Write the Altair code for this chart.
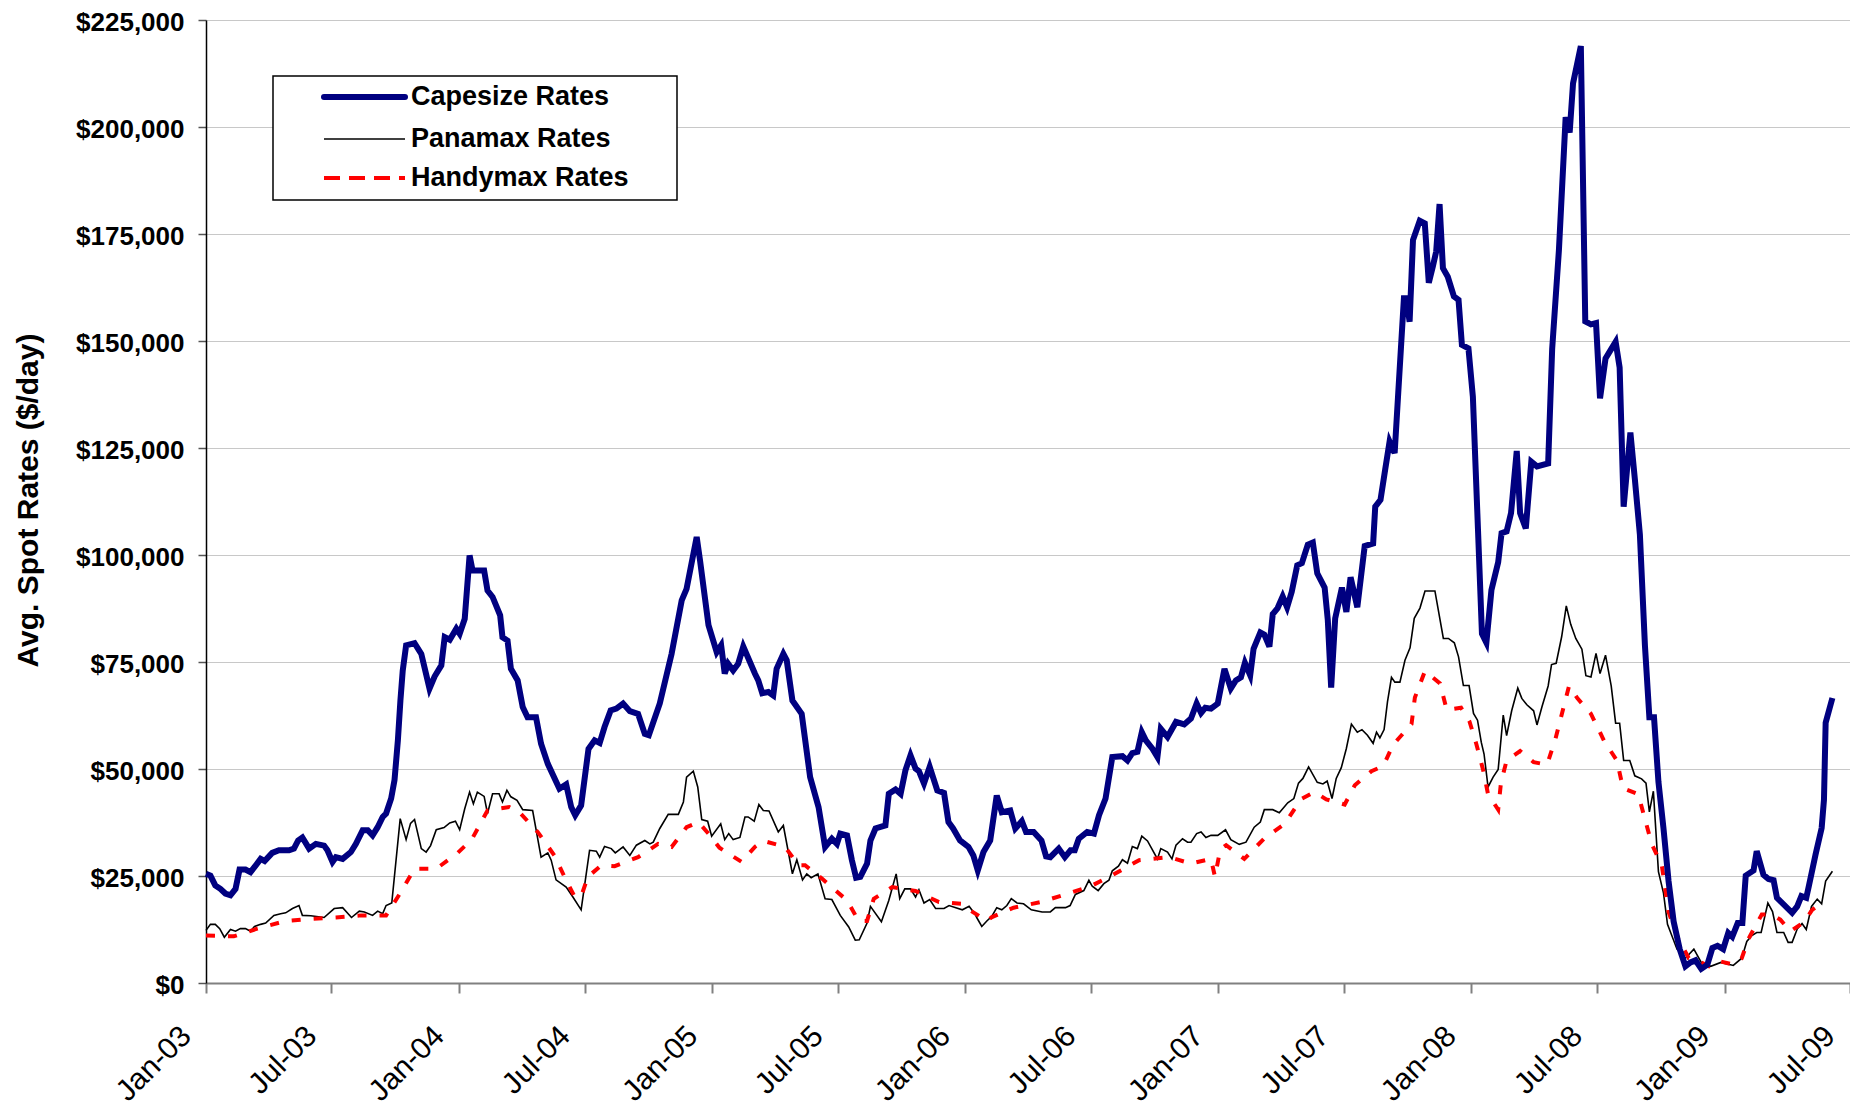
import altair as alt
import numpy as np
import pandas as pd

FONT = "Liberation Sans"
SERIES = ["Capesize Rates", "Panamax Rates", "Handymax Rates"]
COLORS = ["#000080", "#000000", "#FF0000"]

# (months since Jan-2003, rate in $ thousands per day)
capesize = [
    (0.0, 25.5), (0.21, 25.1), (0.44, 22.8), (0.68, 22.0), (0.92, 20.9), (1.16, 20.5), (1.4, 22.0),
    (1.59, 26.5), (1.87, 26.5), (2.11, 25.9), (2.35, 27.4), (2.59, 29.0), (2.78, 28.5), (3.14, 30.4),
    (3.46, 31.0), (3.94, 31.0), (4.17, 31.4), (4.37, 33.3), (4.57, 34.0), (4.89, 31.4), (5.21, 32.5),
    (5.6, 32.1), (5.76, 31.0), (6.0, 28.3), (6.16, 29.4), (6.48, 29.0), (6.87, 30.6), (7.11, 32.5),
    (7.43, 35.7), (7.67, 35.7), (7.9, 34.5), (8.14, 36.4), (8.38, 38.8), (8.54, 39.6), (8.78, 43.1),
    (8.94, 47.4), (9.1, 56.7), (9.22, 66.0), (9.33, 73.0), (9.49, 78.9), (9.89, 79.4), (10.21, 76.9),
    (10.6, 68.8), (10.84, 71.6), (11.16, 74.2), (11.32, 80.8), (11.56, 80.2), (11.87, 82.8), (12.03, 81.6),
    (12.27, 85.1), (12.5, 99.9), (12.64, 96.4), (13.19, 96.4), (13.35, 91.7), (13.59, 90.2), (13.95, 85.9),
    (14.06, 80.8), (14.3, 80.0), (14.46, 73.4), (14.78, 70.7), (15.02, 64.5), (15.25, 62.1), (15.65, 62.1),
    (15.89, 55.9), (16.21, 51.2), (16.76, 45.4), (17.08, 46.4), (17.32, 41.1), (17.51, 39.2), (17.79, 41.5),
    (18.14, 54.7), (18.43, 56.7), (18.67, 56.1), (18.9, 59.8), (19.19, 63.7), (19.46, 64.1), (19.78, 65.3),
    (20.1, 63.5), (20.49, 62.9), (20.81, 58.2), (21.0, 57.9), (21.52, 65.3), (22.08, 76.9), (22.56, 89.4),
    (22.79, 92.1), (23.27, 104.2), (23.43, 98.7), (23.83, 83.6), (24.22, 77.3), (24.43, 78.9), (24.6, 72.3),
    (24.76, 74.6), (25.0, 73.0), (25.24, 74.6), (25.48, 78.6), (26.03, 72.3), (26.19, 70.7), (26.38, 67.7),
    (26.67, 68.0), (26.9, 67.2), (27.06, 73.4), (27.38, 76.9), (27.54, 75.4), (27.81, 66.0), (28.25, 62.9),
    (28.65, 48.1), (29.05, 41.1), (29.36, 31.8), (29.68, 33.7), (29.92, 32.5), (30.08, 34.9), (30.4, 34.5),
    (30.63, 28.7), (30.83, 24.6), (31.03, 24.8), (31.35, 27.9), (31.51, 33.3), (31.75, 36.1), (32.22, 36.8),
    (32.38, 44.2), (32.7, 45.2), (32.94, 44.2), (33.17, 49.7), (33.41, 53.2), (33.65, 50.1), (33.81, 49.5),
    (34.05, 46.6), (34.32, 50.5), (34.68, 45.0), (35.0, 44.4), (35.21, 37.6), (35.43, 36.1), (35.76, 33.3),
    (36.16, 31.8), (36.39, 29.8), (36.6, 26.3), (36.87, 30.6), (37.19, 33.3), (37.5, 43.8), (37.74, 39.9),
    (38.14, 40.3), (38.38, 36.1), (38.69, 37.8), (38.89, 35.3), (39.25, 35.3), (39.62, 33.3), (39.84, 29.6),
    (40.04, 29.4), (40.44, 31.4), (40.73, 29.4), (41.0, 31.0), (41.2, 31.0), (41.39, 33.7), (41.79, 35.3),
    (42.11, 34.9), (42.35, 39.2), (42.66, 43.1), (42.98, 52.8), (43.46, 53.0), (43.7, 52.0), (43.93, 53.7),
    (44.17, 54.0), (44.38, 58.6), (44.57, 56.7), (44.89, 54.7), (45.12, 52.8), (45.28, 59.4), (45.6, 57.5),
    (46.0, 61.0), (46.39, 60.4), (46.71, 61.8), (46.98, 65.3), (47.19, 63.1), (47.39, 64.3), (47.66, 64.1),
    (47.98, 65.3), (48.3, 73.4), (48.6, 68.8), (48.84, 70.7), (49.08, 71.4), (49.27, 74.8), (49.52, 71.9),
    (49.68, 78.1), (50.0, 81.9), (50.19, 81.4), (50.43, 78.6), (50.59, 86.2), (50.82, 87.6), (51.06, 90.3),
    (51.27, 87.8), (51.49, 91.4), (51.75, 97.6), (51.97, 98.1), (52.25, 102.4), (52.49, 102.9), (52.7, 95.7),
    (53.05, 92.4), (53.2, 84.8), (53.36, 69.0), (53.55, 85.2), (53.87, 92.4), (54.08, 86.7), (54.28, 94.8),
    (54.6, 87.8), (54.95, 102.1), (55.35, 102.7), (55.45, 111.3), (55.7, 112.9), (55.92, 119.9),
    (56.13, 126.5), (56.37, 123.8), (56.53, 137.0), (56.81, 160.0), (56.92, 160.0), (57.08, 154.5),
    (57.24, 173.6), (57.56, 178.1), (57.8, 177.5), (57.99, 163.6), (58.18, 167.4), (58.34, 170.9),
    (58.5, 182.0), (58.66, 167.0), (58.89, 165.0), (59.18, 160.4), (59.4, 159.6), (59.56, 149.1),
    (59.87, 148.3), (60.08, 137.0), (60.32, 106.2), (60.51, 81.6), (60.72, 79.5), (60.96, 91.8),
    (61.28, 98.3), (61.44, 105.1), (61.68, 105.5), (61.89, 109.8), (62.16, 124.3), (62.32, 109.8),
    (62.59, 106.2), (62.85, 121.8), (63.12, 120.7), (63.65, 121.4), (63.84, 148.1), (64.16, 171.2),
    (64.48, 202.3), (64.67, 198.7), (64.83, 210.2), (65.2, 218.9), (65.41, 154.6), (65.68, 153.9),
    (65.92, 154.2), (66.11, 136.6), (66.37, 145.9), (66.64, 148.1), (66.85, 149.8), (67.04, 143.8),
    (67.23, 111.3), (67.55, 128.6), (67.76, 117.8), (68.0, 104.8), (68.24, 78.8), (68.45, 62.1),
    (68.67, 62.1), (68.88, 47.0), (69.12, 36.1), (69.36, 23.8), (69.6, 14.4), (69.89, 7.9), (70.16, 3.9),
    (70.4, 4.8), (70.64, 5.3), (70.91, 3.3), (71.2, 4.3), (71.44, 8.2), (71.68, 8.7), (71.95, 7.9),
    (72.19, 11.7), (72.38, 10.8), (72.64, 14.0), (72.86, 14.0), (73.02, 25.1), (73.39, 26.3), (73.54, 30.8),
    (73.86, 25.3), (74.1, 24.3), (74.34, 24.0), (74.5, 19.9), (75.22, 16.4), (75.46, 17.9), (75.66, 20.3),
    (75.89, 19.9), (76.01, 22.6), (76.33, 30.0), (76.62, 36.2), (76.73, 42.8), (76.81, 60.8), (77.13, 66.6),
]

panamax = [
    (0.0, 12.3), (0.21, 13.7), (0.44, 13.7), (0.65, 12.7), (0.87, 10.7), (1.16, 12.5), (1.4, 12.1),
    (1.63, 12.7), (1.87, 12.7), (2.11, 12.1), (2.3, 13.2), (2.59, 13.7), (2.83, 14.0), (3.22, 15.8),
    (3.54, 16.2), (3.78, 16.4), (4.1, 17.4), (4.41, 18.1), (4.57, 15.8), (4.97, 15.7), (5.6, 15.3),
    (6.08, 17.4), (6.48, 17.6), (6.9, 15.3), (7.27, 16.8), (7.51, 16.6), (7.9, 15.8), (8.14, 16.8),
    (8.38, 16.2), (8.54, 18.1), (8.81, 18.7), (9.21, 38.4), (9.49, 33.5), (9.7, 37.3), (9.89, 38.2),
    (10.21, 31.4), (10.44, 30.6), (10.65, 32.1), (10.92, 35.8), (11.29, 36.3), (11.56, 37.4), (11.83, 37.8),
    (12.03, 35.8), (12.27, 40.7), (12.5, 44.6), (12.68, 41.9), (12.87, 44.6), (13.19, 43.6), (13.35, 39.6),
    (13.59, 44.2), (13.9, 44.2), (14.06, 42.3), (14.27, 45.0), (14.46, 43.5), (14.75, 42.7), (15.02, 40.5),
    (15.49, 40.3), (15.89, 29.4), (16.21, 30.4), (16.37, 28.7), (16.6, 24.1), (17.08, 22.4), (17.4, 20.1),
    (17.79, 17.1), (18.19, 31.0), (18.51, 30.8), (18.67, 29.4), (18.9, 31.9), (19.22, 31.4), (19.41, 30.4),
    (19.78, 31.8), (20.1, 29.8), (20.41, 32.2), (20.81, 33.3), (21.05, 32.5), (21.21, 32.9), (21.52, 36.1),
    (21.92, 39.4), (22.4, 39.4), (22.64, 42.3), (22.79, 48.1), (23.11, 49.5), (23.32, 45.8), (23.51, 38.2),
    (23.79, 37.8), (23.98, 34.3), (24.41, 37.2), (24.6, 33.5), (24.79, 34.9), (25.0, 33.5), (25.32, 34.0),
    (25.56, 38.8), (25.71, 38.8), (26.0, 37.8), (26.22, 41.7), (26.43, 40.3), (26.7, 40.2), (27.14, 35.3),
    (27.38, 36.8), (27.81, 25.5), (28.02, 28.8), (28.29, 24.1), (28.49, 25.5), (28.7, 24.6), (29.02, 25.5),
    (29.36, 19.7), (29.68, 19.5), (30.08, 15.8), (30.48, 13.1), (30.79, 10.0), (30.98, 10.1), (31.35, 14.0),
    (31.51, 17.9), (32.03, 14.3), (32.38, 19.3), (32.73, 25.5), (32.9, 19.7), (33.14, 22.0), (33.41, 22.0),
    (33.65, 20.1), (33.81, 21.8), (34.05, 18.7), (34.32, 19.5), (34.6, 17.4), (35.0, 17.4), (35.24, 18.1),
    (35.56, 17.6), (35.87, 17.1), (36.19, 17.9), (36.48, 16.0), (36.55, 15.3), (36.79, 13.2), (37.03, 14.5),
    (37.27, 15.6), (37.5, 17.6), (37.74, 17.1), (37.98, 18.1), (38.19, 19.7), (38.46, 18.7), (38.77, 18.5),
    (39.14, 17.1), (39.65, 16.6), (40.04, 16.6), (40.28, 17.6), (40.76, 17.6), (40.98, 18.1), (41.23, 20.7),
    (41.63, 21.6), (41.87, 24.0), (42.03, 22.6), (42.31, 21.6), (42.58, 23.2), (42.82, 24.0), (42.98, 26.2),
    (43.27, 27.3), (43.46, 28.8), (43.7, 28.0), (43.93, 31.9), (44.17, 31.4), (44.38, 34.3), (44.65, 33.2),
    (45.12, 29.0), (45.28, 31.4), (45.6, 30.6), (45.81, 29.0), (46.0, 32.2), (46.31, 33.7), (46.55, 32.9),
    (46.71, 32.9), (46.98, 34.9), (47.19, 35.3), (47.42, 34.0), (47.66, 34.5), (47.98, 34.5), (48.35, 35.8),
    (48.6, 33.5), (49.0, 32.4), (49.32, 32.9), (49.71, 36.4), (50.0, 37.6), (50.19, 40.5), (50.59, 40.5),
    (50.9, 39.8), (51.3, 42.1), (51.59, 43.1), (51.81, 46.7), (52.02, 47.8), (52.29, 50.5), (52.7, 46.9),
    (52.97, 46.5), (53.17, 47.2), (53.4, 43.1), (53.6, 47.8), (53.84, 50.3), (54.08, 54.8), (54.32, 60.5),
    (54.6, 58.6), (54.82, 59.2), (55.08, 57.9), (55.35, 56.0), (55.51, 58.6), (55.67, 57.3), (55.87, 59.2),
    (56.03, 65.7), (56.22, 71.4), (56.38, 70.3), (56.62, 70.3), (56.86, 75.4), (57.1, 78.3), (57.3, 85.2),
    (57.57, 87.6), (57.81, 91.6), (58.28, 91.6), (58.68, 80.5), (58.92, 80.5), (59.2, 79.5), (59.4, 76.2),
    (59.63, 69.5), (59.9, 69.5), (60.11, 63.0), (60.3, 61.4), (60.48, 56.2), (60.61, 53.5), (60.8, 45.8),
    (61.04, 48.1), (61.28, 49.9), (61.52, 62.6), (61.68, 57.8), (61.92, 63.6), (62.21, 68.9), (62.4, 66.5),
    (62.64, 65.0), (62.96, 63.6), (63.12, 60.3), (63.36, 64.6), (63.65, 69.4), (63.81, 74.4), (64.03, 74.7),
    (64.29, 80.9), (64.51, 88.1), (64.72, 83.8), (64.96, 80.5), (65.25, 78.0), (65.44, 71.8), (65.68, 71.5),
    (65.92, 77.0), (66.11, 72.3), (66.37, 76.6), (66.64, 69.4), (66.85, 60.7), (67.04, 60.7), (67.23, 52.0),
    (67.52, 52.0), (67.76, 48.4), (68.08, 47.7), (68.29, 46.7), (68.45, 40.0), (68.64, 44.8), (68.88, 26.0),
    (69.12, 21.0), (69.31, 13.7), (69.76, 7.9), (70.16, 5.8), (70.56, 7.9), (70.91, 4.8), (71.36, 3.9),
    (71.84, 4.8), (72.43, 4.1), (72.83, 5.8), (73.07, 9.7), (73.31, 11.1), (73.54, 11.8), (73.75, 11.8),
    (74.07, 18.7), (74.29, 16.7), (74.5, 11.8), (74.82, 11.8), (75.03, 9.5), (75.22, 9.5), (75.46, 12.6),
    (75.69, 13.9), (75.89, 12.5), (76.14, 17.9), (76.41, 19.6), (76.62, 18.5), (76.81, 23.8), (77.13, 26.1),
]

handymax = [
    (0.0, 11.1), (1.32, 10.9), (2.43, 12.7), (3.78, 14.5), (4.97, 15.0), (6.16, 15.3), (7.35, 15.8),
    (8.54, 15.8), (9.25, 21.3), (9.89, 26.7), (10.92, 26.7), (11.87, 30.1), (12.6, 33.5), (13.35, 40.3),
    (14.38, 41.1), (14.86, 39.9), (15.73, 35.3), (16.52, 29.8), (17.08, 24.0), (17.48, 20.2), (17.79, 20.2),
    (18.11, 24.8), (18.75, 27.5), (19.38, 27.3), (20.49, 29.4), (21.44, 32.5), (22.08, 31.8), (22.79, 36.4),
    (23.35, 37.6), (23.9, 34.5), (24.35, 31.6), (25.4, 28.3), (26.03, 31.8), (26.43, 33.2), (27.46, 31.8),
    (28.1, 27.5), (28.41, 27.5), (29.21, 24.4), (30.4, 19.3), (30.95, 14.5), (31.35, 14.5), (31.67, 19.7),
    (32.54, 22.4), (33.02, 22.0), (33.65, 21.5), (34.76, 18.9), (35.87, 18.5), (36.23, 17.0), (37.03, 14.5),
    (37.27, 15.4), (38.3, 17.6), (39.57, 18.9), (40.76, 20.7), (41.95, 22.6), (42.98, 25.2), (44.25, 28.7),
    (45.68, 29.4), (46.71, 27.9), (47.66, 29.0), (47.85, 24.8), (48.1, 31.2), (48.38, 32.2), (49.24, 29.0),
    (50.19, 33.8), (51.14, 37.1), (51.94, 43.0), (52.57, 44.6), (53.13, 42.9), (54.0, 41.7), (54.48, 46.2),
    (55.27, 49.5), (55.83, 50.7), (56.3, 55.7), (57.17, 60.5), (57.33, 66.7), (57.81, 72.9), (58.52, 70.0),
    (58.84, 63.8), (59.52, 64.3), (59.92, 61.1), (60.24, 55.9), (60.56, 49.9), (60.8, 44.1), (61.28, 40.5),
    (61.41, 46.7), (61.68, 52.0), (62.32, 54.2), (62.96, 51.6), (63.6, 51.0), (64.0, 57.1), (64.64, 69.4),
    (65.04, 66.5), (65.68, 62.9), (66.32, 56.4), (66.91, 52.0), (67.2, 45.5), (67.92, 44.1), (68.24, 38.3),
    (68.56, 32.5), (69.04, 27.5), (69.36, 16.6), (69.84, 10.1), (70.32, 5.8), (70.72, 5.3), (71.28, 3.9),
    (71.76, 5.1), (72.43, 4.3), (72.83, 5.8), (73.15, 10.3), (73.78, 16.0), (74.26, 16.0), (74.66, 14.8),
    (75.14, 12.1), (75.77, 14.2), (76.17, 17.1), (76.62, 18.7),
]

Y_TICKS = list(range(0, 225001, 25000))
X_TICKS = [(y, m) for y in range(2003, 2010) for m in (1, 7)]

BASE = pd.Timestamp("2003-01-01")
DAYS_PER_MONTH = 30.436875


def frame(points, name):
    months = np.array([p[0] for p in points])
    vals = np.array([p[1] for p in points]) * 1000.0
    dates = BASE + pd.to_timedelta(months * DAYS_PER_MONTH, unit="D")
    return pd.DataFrame({"date": dates.strftime("%Y-%m-%dT%H:%M:%SZ"), "rate": vals, "series": name})


def dt(y, m):
    return alt.DateTime(year=y, month=m, date=1, utc=True)


x_enc = alt.X(
    "date:T",
    scale=alt.Scale(type="utc", domain=[dt(2003, 1), dt(2009, 7)]),
    axis=alt.Axis(
        values=[dt(y, m) for y, m in X_TICKS], format="%b-%y", title=None, grid=False,
        labelAngle=315, labelAlign="right", labelBaseline="middle", labelFlush=False,
        labelOverlap=False, labelBound=False, labelFont=FONT, labelFontSize=30,
        labelFontWeight="normal", labelColor="#000000", labelPadding=38, labelOffset=-20,
        domainColor="#808080", domainWidth=2, tickColor="#808080", tickWidth=2, tickSize=10,
    ),
)
y_enc = alt.Y(
    "rate:Q",
    scale=alt.Scale(domain=[0, 225000], nice=False, zero=True),
    axis=alt.Axis(
        values=Y_TICKS, format="$,.0f", title="Avg. Spot Rates ($/day)",
        grid=True, gridColor="#C8C8C8", gridWidth=1,
        domainColor="#000000", domainWidth=1.5, tickColor="#555555", tickWidth=1.5, tickSize=8,
        labelFont=FONT, labelFontSize=26, labelFontWeight="bold", labelColor="#000000", labelPadding=14,
        labelOffset=2,
        titleFont=FONT, titleFontSize=30, titleFontWeight="bold", titleColor="#000000",
        titleAngle=270, titleAlign="center", titleBaseline="middle", titleX=-178, titleY=480,
    ),
)

frames = {
    "Capesize Rates": frame(capesize, "Capesize Rates"),
    "Panamax Rates": frame(panamax, "Panamax Rates"),
    "Handymax Rates": frame(handymax, "Handymax Rates"),
}
style = {
    "Capesize Rates": dict(color=COLORS[0], strokeWidth=6),
    "Panamax Rates": dict(color=COLORS[1], strokeWidth=1.6),
    "Handymax Rates": dict(color=COLORS[2], strokeWidth=4, strokeDash=[9, 13]),
}

line_layers = []
for name in ["Panamax Rates", "Handymax Rates", "Capesize Rates"]:
    line_layers.append(
        alt.Chart(frames[name]).mark_line(interpolate="linear", **style[name]).encode(x=x_enc, y=y_enc)
    )

# framed legend, drawn as marks to match the original's box and spacing
legend_layers = [
    alt.Chart(pd.DataFrame({"series": ["legend"]})).mark_rect(
        fill="white", stroke="black", strokeWidth=1.5
    ).encode(x=alt.value(67), x2=alt.value(471), y=alt.value(56), y2=alt.value(180))
]
legend_rows = [77, 119, 158]
legend_style = {
    "Capesize Rates": dict(color=COLORS[0], strokeWidth=6, strokeCap="round"),
    "Panamax Rates": dict(color=COLORS[1], strokeWidth=1.6),
    "Handymax Rates": dict(color=COLORS[2], strokeWidth=4, strokeDash=[16, 9]),
}
for name, ry in zip(SERIES, legend_rows):
    d = pd.DataFrame({"series": [name]})
    legend_layers.append(
        alt.Chart(d).mark_rule(**legend_style[name]).encode(
            x=alt.value(118), x2=alt.value(199), y=alt.value(ry)
        )
    )
    legend_layers.append(
        alt.Chart(d).mark_text(
            align="left", baseline="middle", font=FONT, fontSize=27, fontWeight="bold", color="#000000"
        ).encode(x=alt.value(205), y=alt.value(ry), text="series:N")
    )

chart = (
    alt.layer(*line_layers, *legend_layers)
    .properties(
        width=1644, height=963,
        padding={"left": 198, "top": 12, "right": 0, "bottom": 123},
        autosize=alt.AutoSizeParams(type="none"),
        background="white",
    )
    .configure_view(stroke=None)
)

chart.save("out.html", embed_options={"renderer": "svg", "actions": False})
